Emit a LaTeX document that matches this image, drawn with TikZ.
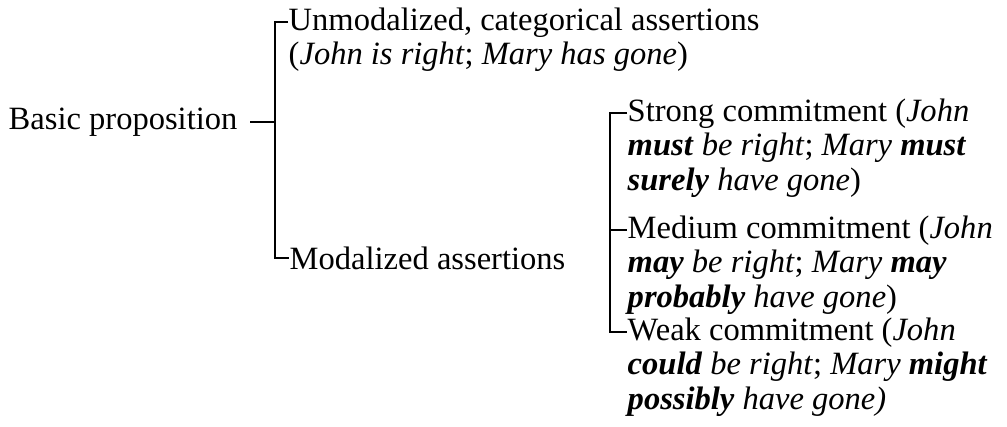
\documentclass[tikz,border=0pt]{standalone}
\usepackage{fontspec}
\setmainfont{Liberation Serif}

\tikzset{every picture/.style={line width=1.1pt}}
\tikzset{
  txt/.style={anchor=north west, inner sep=0pt, align=left,
    font=\fontsize{24.4}{25.9}\selectfont}
}
\newcommand{\bi}[1]{\textbf{\textit{#1}}}

\begin{document}
\begin{tikzpicture}[x=0.75pt,y=0.75pt,yscale=-1,xscale=1]
\path[use as bounding box] (0,0) rectangle (1007,426);

%Shape: first bracket corners
\coordinate (b1top) at (275,22);
\coordinate (b1mid) at (275,122);
\coordinate (b1bot) at (275,258);
%Shape: second bracket corners
\coordinate (b2top) at (610,113);
\coordinate (b2mid) at (610,230);
\coordinate (b2bot) at (610,332);

% Text Node
\node[txt, anchor=west] (basic) at (8,122) {Basic proposition};
% Text Node
\node[txt] (unmod) at (288,7) {Unmodalized, categorical assertions\\(\textit{John is right}; \textit{Mary has gone})};
% Text Node
\node[txt, anchor=west] (modal) at (289,258) {Modalized assertions};
% Text Node
\node[txt] (strong) at (627,98) {Strong commitment (\textit{John}\\\bi{must} \textit{be right}; \textit{Mary} \bi{must}\\\bi{surely} \textit{have gone})};
% Text Node
\node[txt] (medium) at (627,215) {Medium commitment (\textit{John}\\\bi{may} \textit{be right}; \textit{Mary} \bi{may}\\\bi{probably} \textit{have gone})};
% Text Node
\node[txt] (weak) at (627,317) {Weak commitment (\textit{John}\\\bi{could} \textit{be right}; \textit{Mary} \bi{might}\\\bi{possibly} \textit{have gone)}};

%Straight Lines
\draw ([xshift=9]basic.east) -- (b1mid);
%Shape: Bracket
\draw (unmod.north west |- b1top) -- (b1top) -- (b1bot) -- (modal.west);
%Shape: Bracket
\draw (strong.north west |- b2top) -- (b2top) -- (b2bot) -- (weak.north west |- b2bot);
\draw (b2mid) -- (medium.north west |- b2mid);

\end{tikzpicture}
\end{document}
